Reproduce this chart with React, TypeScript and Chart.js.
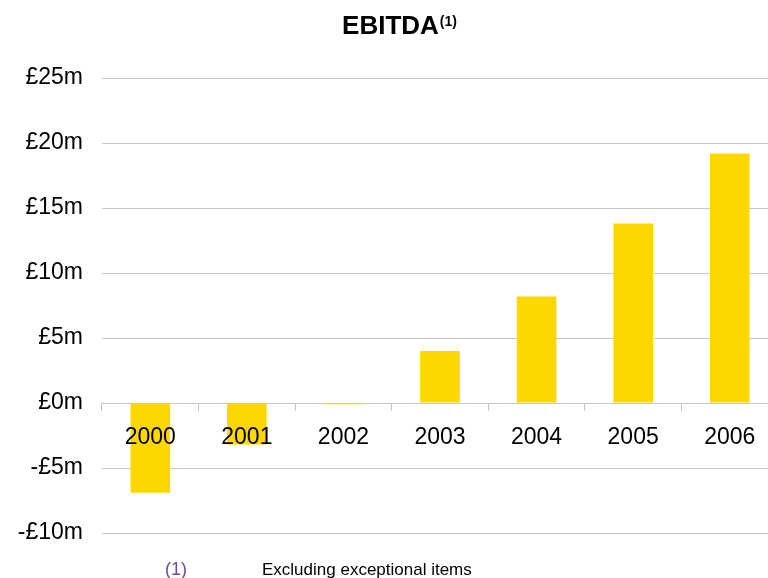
import React, { useEffect, useRef } from "react";
import { Chart, registerables } from "chart.js";

Chart.register(...registerables);

const categories = ["2000", "2001", "2002", "2003", "2004", "2005", "2006"];
const ebitda = [-6.9, -3.2, -0.1, 4.0, 8.2, 13.8, 19.2];
const yMin = -10;
const yMax = 25;
const yStep = 5;
const titleMain = "EBITDA";
const titleSup = "(1)";
const footMarker = "(1)";
const footText = "Excluding exceptional items";

const FONT = '"Liberation Sans", Arial, sans-serif';

const textPlugin = {
  id: "textPlugin",
  afterDraw(chart: any) {
    const ctx = chart.ctx;
    ctx.save();
    ctx.textBaseline = "alphabetic";
    ctx.textAlign = "left";
    ctx.fillStyle = "#000";
    ctx.font = `bold 26px ${FONT}`;
    const w1 = ctx.measureText(titleMain).width;
    ctx.font = `bold 14px ${FONT}`;
    const w2 = ctx.measureText(titleSup).width;
    const start = 399.5 - (w1 + 1 + w2) / 2;
    ctx.font = `bold 26px ${FONT}`;
    ctx.fillText(titleMain, start, 34);
    ctx.font = `bold 14px ${FONT}`;
    ctx.fillText(titleSup, start + w1 + 1, 26);

    ctx.font = `18px ${FONT}`;
    ctx.fillStyle = "#6b4f9c";
    ctx.fillText(footMarker, 165, 575);
    ctx.font = `17px ${FONT}`;
    ctx.fillStyle = "#000";
    ctx.fillText(footText, 262, 575);
    ctx.restore();
  },
};

export default function App() {
  const ref = useRef<HTMLCanvasElement | null>(null);
  useEffect(() => {
    if (!ref.current) return;
    const chart = new Chart(ref.current, {
      type: "bar",
      data: {
        labels: categories,
        datasets: [
          {
            label: "EBITDA",
            data: ebitda,
            backgroundColor: "#FFD700",
            borderWidth: 0,
            barPercentage: 0.41,
            categoryPercentage: 1,
          },
        ],
      },
      options: {
        animation: false,
        responsive: true,
        maintainAspectRatio: false,
        layout: { padding: { top: 78, bottom: 45, left: 0, right: 2 } },
        plugins: {
          legend: { display: false },
          title: { display: false },
          tooltip: { enabled: false },
        },
        scales: {
          x: {
            type: "category",
            position: { y: 0 } as any,
            offset: true,
            grid: {
              offset: true,
              drawOnChartArea: false,
              drawTicks: true,
              tickLength: 8,
              color: "#c6c6c6",
            },
            border: { display: false },
            ticks: {
              z: 1,
              color: "#000",
              padding: 13,
              maxRotation: 0,
              autoSkip: false,
              font: { family: FONT, size: 23 },
            },
            afterFit: (s: any) => {
              s.height = 0;
            },
          } as any,
          y: {
            min: yMin,
            max: yMax,
            grid: { color: "#c6c6c6", drawTicks: false, lineWidth: 1 },
            border: { display: false },
            ticks: {
              stepSize: yStep,
              color: "#000",
              padding: 19,
              font: { family: FONT, size: 23 },
              callback: (v: any) => (v < 0 ? `-£${-v}m` : `£${v}m`),
            },
            afterFit: (s: any) => {
              s.width = 102;
            },
          },
        },
      },
      plugins: [textPlugin],
    });
    return () => chart.destroy();
  }, []);

  return (
    <div
      style={{
        position: "fixed",
        left: 0,
        top: 0,
        width: 768,
        height: 578,
        overflow: "hidden",
        background: "#fff",
      }}
    >
      <div style={{ position: "absolute", left: 0, top: 0, width: 780, height: 578 }}>
        <canvas ref={ref} />
      </div>
    </div>
  );
}
